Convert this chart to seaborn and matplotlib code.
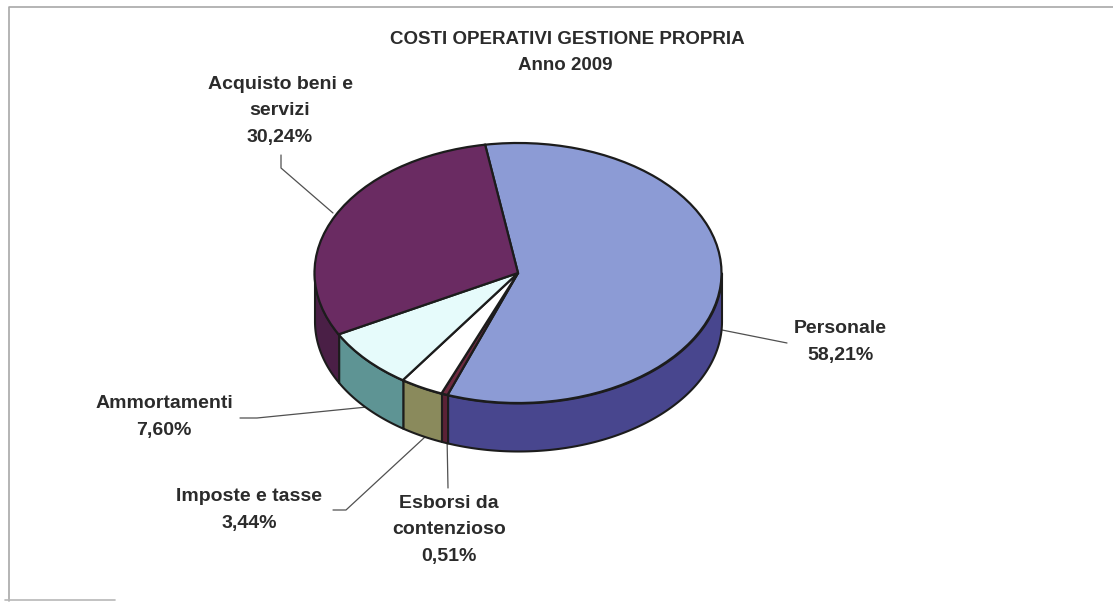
import numpy as np
import matplotlib
matplotlib.use("Agg")
import matplotlib.pyplot as plt
import seaborn as sns

# --- data -------------------------------------------------------------
categories = ["Personale", "Esborsi da\ncontenzioso", "Imposte e tasse",
              "Ammortamenti", "Acquisto beni e\nservizi"]
shares = [58.21, 0.51, 3.44, 7.60, 30.24]

top_colors = ["#8C9BD5", "#6E2A40", "#FFFFFF", "#E6FBFB", "#6A2B62"]
side_colors = ["#48468E", "#5A2236", "#8A8A5C", "#5E9494", "#4A1F46"]

title_lines = ["COSTI OPERATIVI GESTIONE PROPRIA", "Anno 2009"]

# --- layout (pixel space of the 1113x603 canvas) ----------------------
W, H = 1113, 603
CX, CY, RX, RY = 518, 273, 203.5, 130      # ellipse of the pie top
DEPTH = 48 / RY                             # thickness of the disc
START = 99.3

label_pos = [(840, 342), (449, 530), (249, 510), (164, 417), (280, 111)]
leaders = [
    [(722, 330), (787, 343)],
    [(447, 436), (448, 488)],
    [(425, 437), (346, 510), (333, 510)],
    [(367, 407), (257, 418), (240, 418)],
    [(333, 213), (281, 168), (281, 155)],
]


def px(x, y):
    """Canvas pixel -> data coordinates of the unit pie."""
    return (x - CX) / RX, (CY - y) / RY


sns.set_theme(style="white")
plt.rcParams["font.family"] = ["Liberation Sans", "DejaVu Sans"]

fig = plt.figure(figsize=(W / 100, H / 100), dpi=100)
ax = fig.add_axes([0, 0, 1, 1])

# side wall of the disc: only the front half (sin < 0) is visible
bounds = START - np.concatenate([[0], np.cumsum(shares)]) * 3.6
for i, col in enumerate(side_colors):
    hi, lo = bounds[i], bounds[i + 1]
    for k in (-1, 0, 1):
        a, b = max(lo + 360 * k, -180), min(hi + 360 * k, 0)
        if b > a:
            t = np.radians(np.linspace(a, b, 200))
            ax.fill_between(np.cos(t), np.sin(t), np.sin(t) - DEPTH,
                            facecolor=col, edgecolor="#1c1c1c",
                            linewidth=1.5, zorder=1)

# top face
ax.pie(shares, colors=top_colors, startangle=START, counterclock=False,
       radius=1, center=(0, 0),
       wedgeprops=dict(edgecolor="#1c1c1c", linewidth=1.6, zorder=2))

ax.set_aspect("auto")
ax.set_xlim(px(0, 0)[0], px(W, 0)[0])
ax.set_ylim(px(0, H)[1], px(0, 0)[1])
ax.axis("off")

# leader lines
for path in leaders:
    pts = np.array([px(*p) for p in path])
    ax.plot(pts[:, 0], pts[:, 1], color="#505050", lw=0.9, zorder=0.5)

# data labels
for name, val, (lx, ly) in zip(categories, shares, label_pos):
    txt = f"{name}\n{val:.2f}".replace(".", ",") + "%"
    ax.text(*px(lx, ly), txt, ha="center", va="center", fontsize=14,
            fontweight="bold", color="#2b2b2b", linespacing=1.72)

# title
ax.text(*px(567, 40), title_lines[0], ha="center", va="center",
        fontsize=13.5, fontweight="bold", color="#2b2b2b")
ax.text(*px(565, 66), title_lines[1], ha="center", va="center",
        fontsize=13.5, fontweight="bold", color="#2b2b2b")

# chart area frame
fx = np.array([px(9, 601), px(9, 7), px(W, 7)])
ax.plot(fx[:, 0], fx[:, 1], color="#a8a8a8", lw=1.2)
bx = np.array([px(5, 600), px(115, 600)])
ax.plot(bx[:, 0], bx[:, 1], color="#b8b8b8", lw=1.2)

fig.savefig("out.png", dpi=100, facecolor="white")
